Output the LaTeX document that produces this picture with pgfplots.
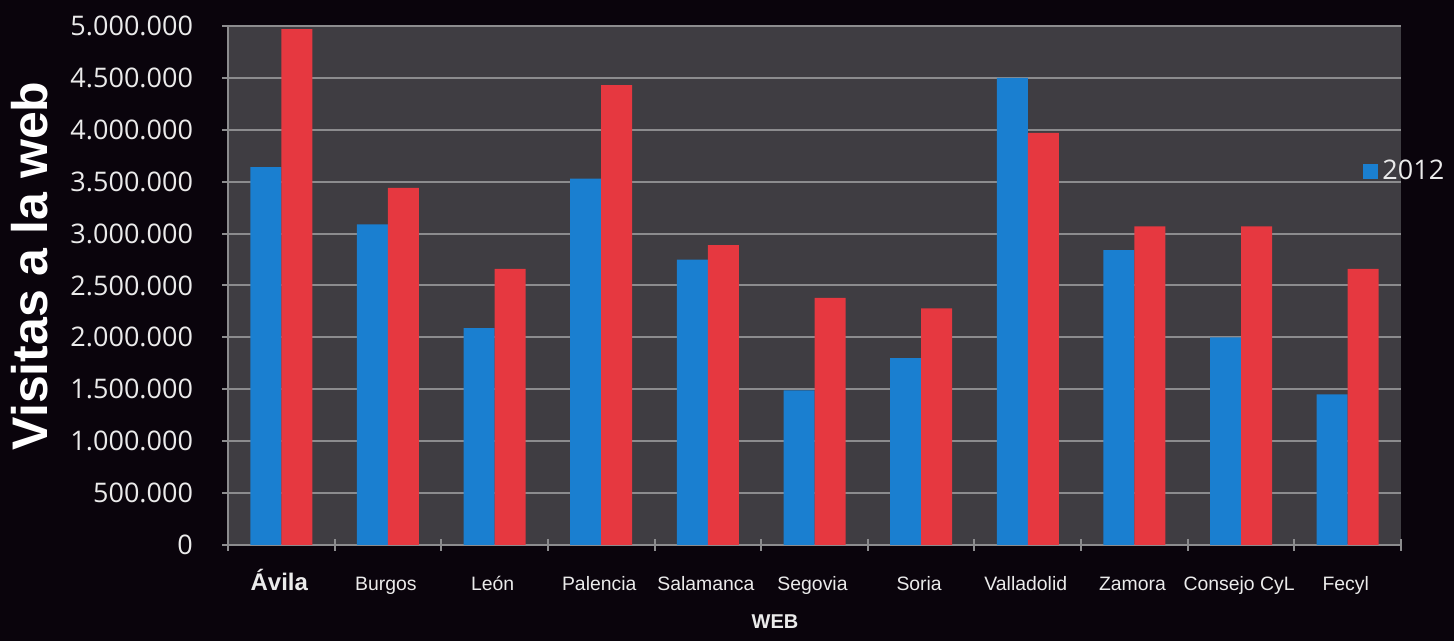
\documentclass[border=0pt]{standalone}
\usepackage{fontspec}
\setmainfont{Liberation Sans}
\newfontfamily\opensans{Open Sans}
\usepackage{pgfplots}
\pgfplotsset{compat=1.18}
\definecolor{bgc}{RGB}{10,4,12}
\definecolor{plotbg}{RGB}{63,61,66}
\definecolor{gridc}{RGB}{140,140,142}
\definecolor{bluebar}{RGB}{26,127,208}
\definecolor{redbar}{RGB}{230,56,64}
\definecolor{txt}{RGB}{235,235,235}
\begin{document}
\begin{tikzpicture}[x=1pt,y=1pt]
\fill[bgc] (0,0) rectangle (727,320.5);
\begin{axis}[
  at={(114pt,48pt)}, anchor=south west,
  scale only axis, width=586.5pt, height=259.5pt,
  axis background/.style={fill=plotbg},
  ybar=0pt, bar width=15.5pt,
  xmin=-0.5, xmax=10.5, ymin=0, ymax=5000000,
  xtick={0,...,10},
  xticklabels={{\fontsize{12}{12}\selectfont\bfseries Ávila},Burgos,León,Palencia,Salamanca,Segovia,Soria,Valladolid,Zamora,Consejo CyL,Fecyl},
  major x tick style={draw=none},
  minor xtick={-0.5,0.5,...,10.5},
  minor tick length=6pt, major tick length=6pt,
  tick align=outside,
  tick style={gridc, line width=1pt},
  ytick={0,500000,...,5000000},
  scaled y ticks=false,
  /pgf/number format/fixed,
  /pgf/number format/1000 sep={.},
  /pgf/number format/assume math mode=true,
  yticklabel style={font=\opensans\fontsize{13.5}{14}\selectfont, text=txt, xshift=-11pt},
  xticklabel style={font=\fontsize{9.7}{10}\selectfont, text=txt, text height=11pt, text depth=2pt, xshift=-1pt, yshift=-5pt},
  ymajorgrids, grid style={gridc, line width=1pt},
  axis lines=left,
  axis line style={-, gridc, line width=1pt},
  ylabel={Visitas a la web},
  ylabel style={font=\bfseries\fontsize{25}{25}\selectfont, text=white, at={(axis description cs:-0.1688,0.5376)}, anchor=center},
  xlabel={WEB},
  xlabel style={font=\bfseries\fontsize{10}{10}\selectfont, text=txt, at={(axis description cs:0.4663,-0.148)}, anchor=center},
  legend style={at={(axis description cs:0.9676,0.7206)}, anchor=west, draw=none, fill=none, text=txt, inner sep=0pt, font=\opensans\fontsize{13.5}{14}\selectfont},
  legend image code/.code={\fill[bluebar] (0pt,-3.75pt) rectangle (7.5pt,3.75pt);},
]
\addplot[fill=bluebar, draw=none] coordinates {
(0,3640000) (1,3090000) (2,2090000) (3,3530000) (4,2750000) (5,1490000)
(6,1800000) (7,4500000) (8,2840000) (9,2000000) (10,1450000)};
\addplot[fill=redbar, draw=none] coordinates {
(0,4970000) (1,3440000) (2,2660000) (3,4430000) (4,2890000) (5,2380000)
(6,2280000) (7,3970000) (8,3070000) (9,3070000) (10,2660000)};
\legend{2012}
\end{axis}
\pgfresetboundingbox
\path (0,0) rectangle (727,320.5);
\end{tikzpicture}
\end{document}
